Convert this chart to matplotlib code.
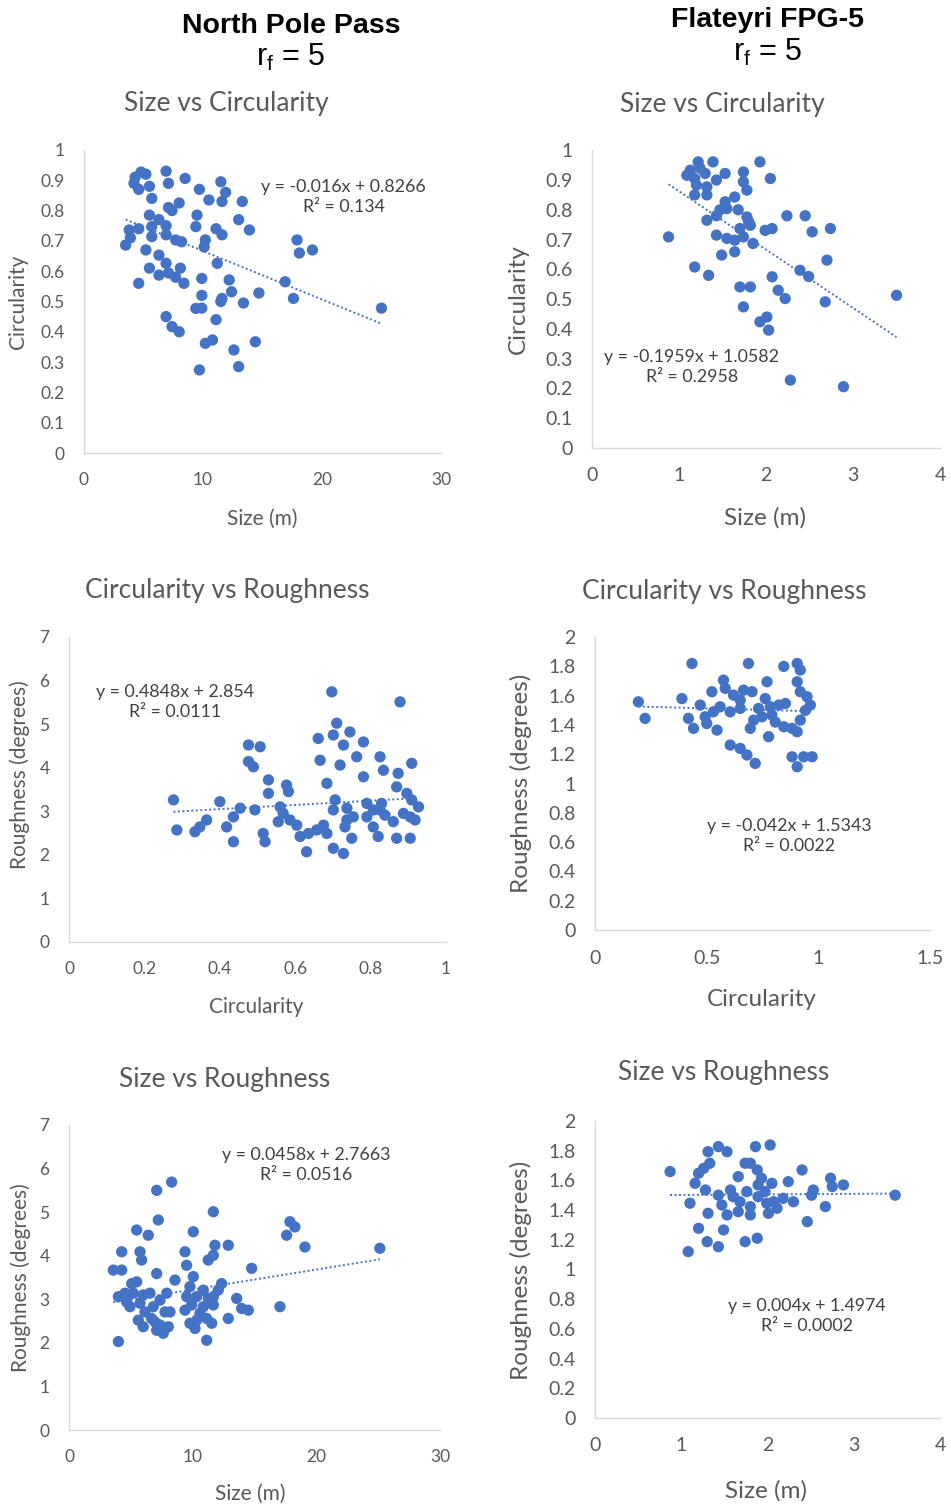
"""Morphometrics of North Pole Pass vs Flateyri FPG-5 (r_f = 5): six scatter panels with linear trends."""
import matplotlib
matplotlib.use("Agg")
import matplotlib.pyplot as plt
from matplotlib.ticker import FuncFormatter, MultipleLocator

plt.rcParams["font.family"] = ["Lato", "DejaVu Sans"]

BLUE = "#4472C4"
GRAY = "#595959"
AXIS = "#D9D9D9"

# North Pole Pass - size (m) vs circularity
npp_sc_size = [4.8, 4.3, 5.2, 4.2, 5.5, 4.6, 6.9, 7.1, 8.5, 11.5, 9.7, 11.9, 10.5, 11.6, 13.3, 5.7,
               7.1, 8.0, 7.4, 5.5, 6.3, 6.9, 5.7, 9.5, 9.4, 13.0, 13.9, 11.1, 11.6, 3.8, 4.6, 3.9,
               3.5, 5.7, 6.9, 7.7, 8.2, 10.2, 10.1, 5.2, 6.3, 6.9, 11.2, 5.5, 6.3, 7.1, 8.1, 7.7,
               8.4, 4.6, 9.9, 12.2, 9.9, 11.6, 12.4, 14.7, 9.4, 9.9, 11.5, 13.4, 11.1, 16.9, 17.6,
               17.9, 18.1, 19.2, 25.0, 6.9, 7.4, 8.0, 10.2, 10.8, 12.6, 14.4, 9.7, 13.0]
npp_sc_circ = [0.927, 0.91, 0.92, 0.89, 0.88, 0.87, 0.93, 0.89, 0.906, 0.895, 0.87, 0.86, 0.835,
               0.83, 0.83, 0.84, 0.81, 0.825, 0.80, 0.785, 0.77, 0.75, 0.747, 0.785, 0.747, 0.77,
               0.736, 0.74, 0.72, 0.736, 0.74, 0.71, 0.686, 0.714, 0.72, 0.703, 0.697, 0.703, 0.68,
               0.67, 0.653, 0.626, 0.626, 0.61, 0.587, 0.594, 0.61, 0.58, 0.56, 0.56, 0.576, 0.571,
               0.52, 0.51, 0.532, 0.528, 0.477, 0.478, 0.5, 0.495, 0.44, 0.565, 0.51, 0.703, 0.66,
               0.67, 0.478, 0.45, 0.417, 0.40, 0.362, 0.373, 0.34, 0.367, 0.274, 0.285]

# Flateyri FPG-5 - size (m) vs circularity
fla_sc_size = [1.22, 1.39, 1.93, 1.13, 1.24, 1.09, 1.18, 1.30, 1.53, 1.43, 1.74, 1.74, 2.05, 1.20,
               1.32, 1.78, 1.18, 1.32, 1.64, 1.53, 1.47, 1.55, 1.68, 1.43, 1.78, 1.80, 2.24, 2.45,
               1.32, 1.70, 1.82, 1.99, 2.07, 2.53, 2.74, 0.88, 1.43, 1.55, 1.64, 1.74, 1.85, 1.64,
               1.49, 2.70, 1.18, 1.34, 2.39, 2.49, 2.07, 1.70, 1.82, 2.14, 2.22, 2.68, 3.50, 1.74,
               1.93, 2.01, 2.03, 2.28, 2.89]
fla_sc_circ = [0.961, 0.961, 0.961, 0.933, 0.94, 0.916, 0.905, 0.922, 0.922, 0.90, 0.927, 0.894,
               0.905, 0.883, 0.877, 0.866, 0.85, 0.85, 0.843, 0.827, 0.80, 0.804, 0.80, 0.78,
               0.776, 0.76, 0.78, 0.78, 0.765, 0.737, 0.748, 0.731, 0.737, 0.726, 0.737, 0.709,
               0.715, 0.704, 0.698, 0.709, 0.687, 0.659, 0.648, 0.631, 0.608, 0.58, 0.597, 0.576,
               0.575, 0.541, 0.541, 0.53, 0.502, 0.491, 0.513, 0.474, 0.424, 0.44, 0.396, 0.228,
               0.206]

# North Pole Pass - circularity vs roughness (degrees)
npp_cr_circ = [0.277, 0.286, 0.334, 0.347, 0.365, 0.40, 0.418, 0.436, 0.436, 0.454, 0.493, 0.476,
               0.507, 0.476, 0.489, 0.529, 0.529, 0.515, 0.52, 0.56, 0.577, 0.582, 0.555, 0.568,
               0.586, 0.604, 0.613, 0.63, 0.635, 0.657, 0.675, 0.684, 0.684, 0.666, 0.661, 0.697,
               0.701, 0.71, 0.745, 0.728, 0.781, 0.763, 0.719, 0.706, 0.701, 0.737, 0.737, 0.754,
               0.75, 0.701, 0.728, 0.732, 0.781, 0.825, 0.834, 0.79, 0.79, 0.807, 0.82, 0.807,
               0.825, 0.838, 0.829, 0.86, 0.869, 0.905, 0.873, 0.878, 0.909, 0.869, 0.896, 0.909,
               0.927, 0.905, 0.918, 0.887]
npp_cr_rough = [3.26, 2.57, 2.53, 2.64, 2.80, 3.22, 2.64, 2.87, 2.30, 3.07, 3.03, 4.52, 4.48, 4.14,
                4.02, 3.72, 3.41, 2.49, 2.30, 3.10, 3.60, 3.45, 2.76, 2.95, 2.80, 2.68, 2.42, 2.07,
                2.49, 2.57, 2.68, 2.49, 3.64, 4.17, 4.67, 5.74, 4.75, 5.02, 4.82, 4.52, 4.59, 4.25,
                4.06, 3.26, 3.03, 3.07, 2.80, 2.87, 2.38, 2.15, 2.03, 2.64, 3.79, 4.25, 3.94, 3.18,
                2.87, 2.64, 2.42, 3.03, 3.03, 2.91, 3.18, 2.76, 2.38, 2.38, 3.87, 5.51, 4.10, 3.56,
                3.41, 3.26, 3.10, 2.87, 2.80, 2.95]

# Flateyri FPG-5 - circularity vs roughness (degrees)
fla_cr_circ = [0.194, 0.224, 0.389, 0.434, 0.418, 0.441, 0.471, 0.493, 0.50, 0.523, 0.53, 0.546,
               0.56, 0.575, 0.583, 0.605, 0.605, 0.65, 0.68, 0.717, 0.62, 0.65, 0.665, 0.687,
               0.65, 0.703, 0.732, 0.71, 0.695, 0.747, 0.77, 0.762, 0.785, 0.792, 0.807, 0.777,
               0.822, 0.852, 0.845, 0.882, 0.905, 0.919, 0.845, 0.905, 0.919, 0.905, 0.919, 0.949,
               0.964, 0.942, 0.882, 0.905, 0.934, 0.972]
fla_cr_rough = [1.558, 1.445, 1.58, 1.82, 1.445, 1.377, 1.536, 1.456, 1.41, 1.627, 1.49, 1.365,
                1.524, 1.706, 1.65, 1.49, 1.263, 1.24, 1.195, 1.138, 1.604, 1.57, 1.638, 1.82,
                1.513, 1.627, 1.513, 1.433, 1.377, 1.456, 1.695, 1.58, 1.524, 1.468, 1.42, 1.32,
                1.536, 1.547, 1.388, 1.377, 1.354, 1.433, 1.80, 1.82, 1.775, 1.695, 1.627, 1.593,
                1.536, 1.50, 1.183, 1.115, 1.183, 1.183]

# North Pole Pass - size (m) vs roughness (degrees)
npp_sr_size = [3.99, 3.58, 4.26, 4.26, 3.99, 4.66, 5.07, 5.47, 4.53, 4.93, 5.47, 5.74, 5.87, 6.41,
               7.09, 8.30, 7.22, 7.09, 6.0, 5.74, 6.14, 6.0, 6.81, 6.68, 7.36, 7.36, 7.62, 7.90,
               8.17, 8.03, 8.57, 7.76, 6.55, 5.2, 5.6, 6.95, 7.09, 9.38, 10.05, 9.51, 10.05, 9.78,
               9.51, 9.38, 9.92, 10.32, 9.78, 10.32, 10.19, 10.59, 10.86, 11.13, 11.26, 10.86,
               11.67, 11.54, 11.13, 11.67, 12.07, 12.34, 11.26, 11.67, 11.80, 12.88, 11.67, 12.88,
               13.56, 13.96, 14.50, 14.77, 17.06, 17.6, 17.87, 18.27, 19.08, 25.14]
npp_sr_rough = [2.03, 3.67, 3.67, 4.09, 3.06, 2.94, 3.36, 3.40, 3.14, 2.83, 4.59, 4.09, 3.90, 4.47,
                5.50, 5.69, 4.82, 3.59, 3.10, 2.91, 2.71, 2.37, 2.83, 2.56, 2.98, 2.41, 2.22, 3.14,
                2.71, 2.37, 3.44, 2.71, 3.14, 3.14, 2.52, 2.48, 2.29, 4.09, 4.55, 3.78, 3.52, 3.29,
                3.06, 2.75, 2.87, 3.06, 2.45, 2.52, 2.33, 2.68, 2.83, 2.56, 3.02, 3.21, 3.06, 2.45,
                2.06, 2.87, 3.21, 3.36, 3.90, 4.01, 4.24, 4.24, 5.01, 2.56, 3.02, 2.79, 2.75, 3.71,
                2.83, 4.47, 4.78, 4.66, 4.20, 4.17]

# Flateyri FPG-5 - size (m) vs roughness (degrees)
fla_sr_size = [0.87, 1.10, 1.08, 1.20, 1.30, 1.43, 1.49, 1.31, 1.16, 1.20, 1.26, 1.31, 1.43, 1.53,
               1.33, 1.28, 1.43, 1.47, 1.53, 1.57, 1.60, 1.66, 1.66, 1.68, 1.74, 1.80, 1.86, 2.03,
               1.74, 1.88, 1.76, 1.80, 1.80, 1.88, 1.89, 1.89, 1.93, 1.97, 1.99, 2.01, 2.05, 2.07,
               2.11, 2.18, 2.24, 2.30, 2.40, 2.46, 2.51, 2.53, 2.67, 2.73, 2.75, 2.88, 3.48]
fla_sr_rough = [1.659, 1.446, 1.12, 1.277, 1.187, 1.153, 1.266, 1.378, 1.58, 1.648, 1.681, 1.793,
                1.827, 1.793, 1.715, 1.535, 1.50, 1.434, 1.367, 1.535, 1.49, 1.625, 1.389, 1.456,
                1.715, 1.715, 1.827, 1.838, 1.187, 1.21, 1.524, 1.423, 1.367, 1.67, 1.569, 1.49,
                1.614, 1.524, 1.446, 1.378, 1.58, 1.456, 1.412, 1.479, 1.591, 1.456, 1.67, 1.322,
                1.50, 1.535, 1.423, 1.614, 1.558, 1.569, 1.50]

# Excel linear trendlines (slope, intercept, R^2) as printed on the chart
fits = {
    "npp_sc": (-0.016, 0.8266, "0.134"),
    "fla_sc": (-0.1959, 1.0582, "0.2958"),
    "npp_cr": (0.4848, 2.854, "0.0111"),
    "fla_cr": (-0.042, 1.5343, "0.0022"),
    "npp_sr": (0.0458, 2.7663, "0.0516"),
    "fla_sr": (0.004, 1.4974, "0.0002"),
}


def eq_text(slope, intercept, r2):
    sign = "-" if slope < 0 else ""
    return f"y = {sign}{abs(slope):g}x + {intercept:g}\nR² = {r2}"


def scatter_panel(rect, x, y, key, xlim, ylim, xstep, ystep, title, title_pos,
                  xlabel, xlabel_pos, ylabel, ylabel_pos, eq_pos, tick_fs, label_fs):
    ax = fig.add_axes(rect)
    ax.scatter(x, y, s=66, color=BLUE, edgecolors="none", zorder=3, clip_on=False)
    slope, intercept, r2 = fits[key]
    xs = [min(x), max(x)]
    ax.plot(xs, [slope * v + intercept for v in xs], color=BLUE, lw=1.4,
            ls=(0, (1, 1.3)), zorder=2)
    ax.set_xlim(*xlim)
    ax.set_ylim(*ylim)
    ax.xaxis.set_major_locator(MultipleLocator(xstep))
    ax.yaxis.set_major_locator(MultipleLocator(ystep))
    fmt = FuncFormatter(lambda v, _: f"{v:g}")
    ax.xaxis.set_major_formatter(fmt)
    ax.yaxis.set_major_formatter(fmt)
    ax.tick_params(length=0, labelsize=tick_fs, labelcolor=GRAY)
    ax.tick_params(axis="x", pad=14)
    ax.tick_params(axis="y", pad=14)
    for side in ("top", "right"):
        ax.spines[side].set_visible(False)
    for side in ("left", "bottom"):
        ax.spines[side].set_color(AXIS)
        ax.spines[side].set_linewidth(1.0)
    ax.text(*title_pos, title, transform=ax.transAxes, ha="center", va="center",
            fontsize=19, color=GRAY)
    ax.set_xlabel(xlabel, fontsize=label_fs, color=GRAY)
    ax.xaxis.set_label_coords(*xlabel_pos)
    ax.set_ylabel(ylabel, fontsize=label_fs, color=GRAY)
    ax.yaxis.set_label_coords(*ylabel_pos)
    ax.text(*eq_pos, eq_text(slope, intercept, r2), transform=ax.transAxes,
            ha="center", va="center", multialignment="center", fontsize=12.8,
            color="#404040", linespacing=1.3)
    return ax


fig = plt.figure(figsize=(9.51, 15.04), dpi=100)

# column headers
hdr = ["Liberation Sans", "DejaVu Sans"]
fig.text(0.306, 0.983, "North Pole Pass", ha="center", va="center", fontsize=20.5,
         fontweight="bold", family=hdr)
fig.text(0.306, 0.962, r"r$_\mathregular{f}$ = 5", ha="center", va="center", fontsize=22,
         family=hdr)
fig.text(0.807, 0.987, "Flateyri FPG-5", ha="center", va="center", fontsize=20.5,
         fontweight="bold", family=hdr)
fig.text(0.807, 0.965, r"r$_\mathregular{f}$ = 5", ha="center", va="center", fontsize=22,
         family=hdr)

scatter_panel([0.0883, 0.6988, 0.3754, 0.2015], npp_sc_size, npp_sc_circ, "npp_sc",
              (0, 30), (0, 1), 10, 0.1, "Size vs Circularity", (0.398, 1.152),
              "Size (m)", (0.50, -0.185), "Circularity", (-0.157, 0.5), (0.727, 0.845),
              12.5, 15)
scatter_panel([0.6225, 0.7021, 0.366, 0.198], fla_sc_size, fla_sc_circ, "fla_sc",
              (0, 4), (0, 1), 1, 0.1, "Size vs Circularity", (0.374, 1.154),
              "Size (m)", (0.497, -0.198), "Circularity", (-0.181, 0.5), (0.287, 0.272),
              14, 17.5)
scatter_panel([0.0726, 0.3737, 0.3964, 0.2028], npp_cr_circ, npp_cr_rough, "npp_cr",
              (0, 1), (0, 7), 0.2, 1, "Circularity vs Roughness", (0.419, 1.151),
              "Circularity", (0.496, -0.18), "Roughness (degrees)", (-0.103, 0.548),
              (0.281, 0.787), 12.5, 15)
scatter_panel([0.6257, 0.3816, 0.3523, 0.1948], fla_cr_circ, fla_cr_rough, "fla_cr",
              (0, 1.5), (0, 2), 0.5, 0.2, "Circularity vs Roughness", (0.385, 1.154),
              "Circularity", (0.499, -0.202), "Roughness (degrees)", (-0.188, 0.5),
              (0.579, 0.321), 14, 17.5)
scatter_panel([0.0726, 0.0492, 0.390, 0.2028], npp_sr_size, npp_sr_rough, "npp_sr",
              (0, 30), (0, 7), 10, 1, "Size vs Roughness", (0.42, 1.148),
              "Size (m)", (0.488, -0.177), "Roughness (degrees)", (-0.103, 0.5),
              (0.639, 0.869), 12.5, 15)
scatter_panel([0.6257, 0.0572, 0.3628, 0.1975], fla_sr_size, fla_sr_rough, "fla_sr",
              (0, 4), (0, 2), 1, 0.2, "Size vs Roughness", (0.374, 1.162),
              "Size (m)", (0.496, -0.209), "Roughness (degrees)", (-0.183, 0.498),
              (0.614, 0.343), 14, 17.5)

fig.savefig("out.png", dpi=100)
